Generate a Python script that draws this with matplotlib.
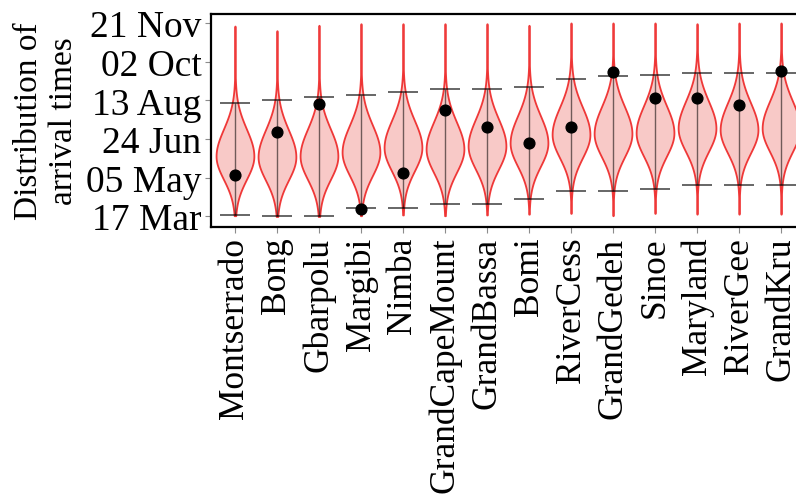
import numpy as np
import pandas as pd
import matplotlib
matplotlib.use('Agg')
import matplotlib.pyplot as plt
import matplotlib.dates as mdates

plt.rcParams['font.family'] = 'serif'
plt.rcParams['font.serif'] = ['Liberation Serif', 'DejaVu Serif']

counties = ['Montserrado', 'Bong', 'Gbarpolu', 'Margibi', 'Nimba',
            'GrandCapeMount', 'GrandBassa', 'Bomi', 'RiverCess',
            'GrandGedeh', 'Sinoe', 'Maryland', 'RiverGee', 'GrandKru']

# observed arrival (black dots)
observed = ['2014-05-09', '2014-07-03', '2014-08-08', '2014-03-26', '2014-05-11',
            '2014-08-01', '2014-07-10', '2014-06-19', '2014-07-10', '2014-09-19',
            '2014-08-16', '2014-08-16', '2014-08-07', '2014-09-20']
# interval bars around each distribution
upper = ['2014-08-09', '2014-08-14', '2014-08-18', '2014-08-20', '2014-08-24',
         '2014-08-28', '2014-08-28', '2014-08-30', '2014-09-10', '2014-09-13',
         '2014-09-15', '2014-09-17', '2014-09-17', '2014-09-17']
lower = ['2014-03-18', '2014-03-17', '2014-03-16', '2014-03-27', '2014-03-27',
         '2014-04-01', '2014-04-01', '2014-04-07', '2014-04-18', '2014-04-18',
         '2014-04-20', '2014-04-26', '2014-04-26', '2014-04-26']
# simulated distribution: mode, range and spread (days) below/above the mode
mode = ['2014-06-02', '2014-06-01', '2014-06-02', '2014-06-07', '2014-06-13',
        '2014-06-11', '2014-06-15', '2014-06-19', '2014-06-30', '2014-07-01',
        '2014-07-02', '2014-07-08', '2014-07-06', '2014-07-08']
earliest = ['2014-03-17', '2014-03-16', '2014-03-16', '2014-03-17', '2014-03-18',
            '2014-03-17', '2014-03-18', '2014-03-19', '2014-03-20', '2014-03-17',
            '2014-03-20', '2014-03-19', '2014-03-19', '2014-03-19']
latest = ['2014-11-17', '2014-11-11', '2014-11-18', '2014-11-20', '2014-11-20',
          '2014-11-20', '2014-11-20', '2014-11-18', '2014-11-21', '2014-11-21',
          '2014-11-21', '2014-11-20', '2014-11-21', '2014-11-21']
spread_below = [30, 30, 30, 30, 30, 30, 30, 30, 30, 30, 30, 30, 30, 30]
spread_above = [35, 35, 35, 35, 35, 35, 35, 35, 35, 35, 35, 35, 35, 35]

ytick_dates = ['2014-03-17', '2014-05-05', '2014-06-24',
               '2014-08-13', '2014-10-02', '2014-11-21']


def to_num(dates):
    return mdates.date2num(pd.to_datetime(dates))


obs = to_num(observed)
hi_bar = to_num(upper)
lo_bar = to_num(lower)
peak = to_num(mode)
lo = to_num(earliest)
hi = to_num(latest)
pos = np.arange(1, len(counties) + 1)

stats = []
for i in range(len(counties)):
    coords = np.linspace(lo[i], hi[i], 400)
    s = np.where(coords < peak[i], spread_below[i], spread_above[i])
    vals = np.exp(-0.5 * ((coords - peak[i]) / s) ** 2) + 0.005
    stats.append(dict(coords=coords, vals=vals, mean=peak[i], median=peak[i],
                      min=lo[i], max=hi[i]))

fig = plt.figure(figsize=(7.96, 5.02), dpi=100)
ax = fig.add_axes([0.2651, 0.5458, 0.7462, 0.4243])

parts = ax.violin(stats, positions=pos, widths=0.9,
                  showmeans=False, showextrema=False, showmedians=False)
for body in parts['bodies']:
    body.set_facecolor((0.92, 0.3, 0.28, 0.3))
    body.set_edgecolor((0.93, 0.1, 0.1, 0.85))
    body.set_linewidth(1.3)
    body.set_alpha(None)

ax.vlines(pos, lo_bar, hi_bar, colors='k', alpha=0.55, lw=1.0)
ax.hlines(hi_bar, pos - 0.35, pos + 0.35, colors='k', alpha=0.6, lw=1.4)
ax.hlines(lo_bar, pos - 0.35, pos + 0.35, colors='k', alpha=0.6, lw=1.4)
ax.scatter(pos, obs, s=60, color='k', zorder=5)

ax.set_xlim(0.43, 14.57)
start = to_num(['2014-03-17'])[0]
ax.set_ylim(start - 14.6, start + 260.6)
ax.set_yticks(to_num(ytick_dates))
ax.yaxis.set_major_formatter(mdates.DateFormatter('%d %b'))
ax.set_xticks(pos)
ax.set_xticklabels(counties, rotation=90)
ax.tick_params(axis='both', length=4, width=0.8, color='0.55', pad=3)
ax.tick_params(axis='x', labelsize=25.5)
ax.tick_params(axis='y', labelsize=27)
ax.set_ylabel('Distribution of\narrival times', fontsize=24, labelpad=5,
              linespacing=1.2)
for sp in ax.spines.values():
    sp.set_linewidth(1.6)

fig.savefig('out.png', dpi=100)
